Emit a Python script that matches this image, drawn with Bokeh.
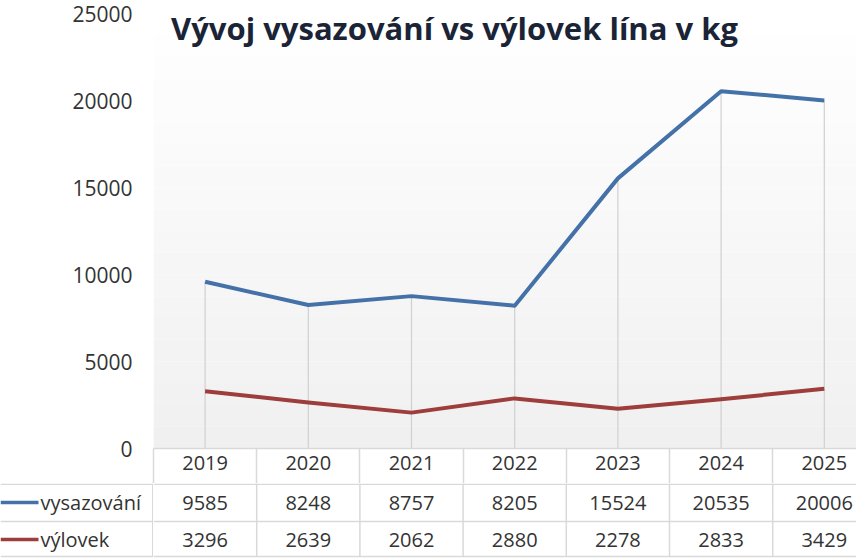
from bokeh.plotting import figure
from bokeh.models import Range1d, FixedTicker, Label, BoxAnnotation
from bokeh.layouts import column, row
from bokeh.embed import file_html
from bokeh.resources import INLINE
from bokeh.core.properties import value

# ---- data ----
years = ["2019", "2020", "2021", "2022", "2023", "2024", "2025"]
vysazovani = [9585, 8248, 8757, 8205, 15524, 20535, 20006]
vylovek = [3296, 2639, 2062, 2880, 2278, 2833, 3429]
y_ticks = [0, 5000, 10000, 15000, 20000, 25000]
series_names = ["vysazování", "výlovek"]
title_text = "Vývoj vysazování vs výlovek lína v kg"

# ---- layout constants ----
W = 856
LEFT = 153          # px where the plot frame starts
COL = 103.2         # px per category column
TOP = 13
FONT = "Open Sans"
TXT = "#333333"
GRID = "#d9d9d9"
BLUE = "#4472a8"
RED = "#9d3d3c"
FS = "20px"

n = len(years)
xs = list(range(n))
x_start = -0.5
x_end = x_start + (W - LEFT) / COL
xr = Range1d(x_start, x_end)

p = figure(width=W, height=483, x_range=xr,
           y_range=Range1d(0, 25000), output_backend="svg",
           toolbar_location=None, min_border_left=LEFT, min_border_right=0,
           min_border_top=TOP, min_border_bottom=35)
p.outline_line_color = None
p.xgrid.visible = False
p.ygrid.visible = False
p.border_fill_color = "white"
p.background_fill_color = "white"

# subtle vertical gradient of the plot area
nb = 20
for k in range(nb):
    g = int(round(240 + 15 * (k + 0.5) / nb))
    p.add_layout(BoxAnnotation(bottom=25000 * k / nb, top=25000 * (k + 1) / nb,
                               fill_color="#%02x%02x%02x" % (g, g, g), fill_alpha=1.0,
                               line_color=None, level="underlay"))

# y axis
p.yaxis.ticker = FixedTicker(ticks=y_ticks)
p.yaxis.axis_line_color = None
p.yaxis.major_tick_line_color = None
p.yaxis.minor_tick_line_color = None
p.yaxis.major_tick_in = 0
p.yaxis.major_tick_out = 0
p.yaxis.minor_tick_out = 0
p.yaxis.major_label_standoff = 21
p.yaxis.major_label_text_font = FONT
p.yaxis.major_label_text_font_size = "21px"
p.yaxis.major_label_text_color = TXT

# x axis = header row of the data table
p.xaxis.ticker = FixedTicker(ticks=xs, minor_ticks=[i - 0.5 for i in range(n + 1)])
p.xaxis.major_label_overrides = {i: y for i, y in zip(xs, years)}
p.xaxis.axis_line_color = GRID
p.xaxis.axis_line_width = 1.5
p.xaxis.major_tick_line_color = None
p.xaxis.major_tick_in = 0
p.xaxis.major_tick_out = 0
p.xaxis.minor_tick_line_color = GRID
p.xaxis.minor_tick_line_width = 1.5
p.xaxis.minor_tick_in = 0
p.xaxis.minor_tick_out = 35
p.xaxis.major_label_standoff = -28
p.xaxis.major_label_text_font = FONT
p.xaxis.major_label_text_font_size = FS
p.xaxis.major_label_text_color = TXT

# drop lines
p.segment(x0=xs, y0=[0] * n, x1=xs, y1=vysazovani, line_color="#d0d0d0", line_width=1.2)

p.line(xs, vysazovani, line_color=BLUE, line_width=4, line_join="round")
p.line(xs, vylovek, line_color=RED, line_width=4, line_join="round")

frame_h = 483 - 35 - TOP
p.add_layout(Label(x=x_start + (454 - LEFT) / COL, y=25000 * (448 - 27) / frame_h,
                   text=title_text, text_font=FONT, text_font_size="31px",
                   text_font_style="bold", text_color="#1a2436",
                   text_align="center", text_baseline="middle"))

# ---- data table rows ----
TH = 77
row_lines = [0.75, 38, 73]
row_y = [19, 56]


def bare(fig):
    fig.outline_line_color = None
    fig.xgrid.visible = False
    fig.ygrid.visible = False
    fig.background_fill_color = "white"
    fig.border_fill_color = "white"
    return fig


# left part: legend keys and series names
lf = bare(figure(width=LEFT, height=TH, x_range=Range1d(0, LEFT), y_range=Range1d(TH, 0),
                 output_backend="svg", toolbar_location=None, x_axis_location=None,
                 y_axis_location=None, min_border=0))
lf.segment(x0=[0] * 3, y0=row_lines, x1=[LEFT] * 3, y1=row_lines,
           line_color=GRID, line_width=1.5)
lf.segment(x0=[LEFT - 0.75], y0=[0], x1=[LEFT - 0.75], y1=[73], line_color=GRID, line_width=1.5)
for ry, name, col in zip(row_y, series_names, [BLUE, RED]):
    lf.line([0, 38], [ry, ry], line_color=col, line_width=3.5)
    lf.text(x=[40], y=[ry], text=[name], text_font=value(FONT),
            text_font_size=FS, text_color=TXT, text_align="left",
            text_baseline="middle")

# right part: values
t = bare(figure(width=W - LEFT, height=TH, x_range=xr, y_range=Range1d(TH, 0),
                output_backend="svg", toolbar_location=None, x_axis_location=None,
                y_axis_location=None, min_border=0))
t.segment(x0=[x_start] * 3, y0=row_lines, x1=[x_end] * 3, y1=row_lines,
          line_color=GRID, line_width=1.5)
vx = [i + 0.5 for i in range(n - 1)]
t.segment(x0=vx, y0=[0] * len(vx), x1=vx, y1=[73] * len(vx), line_color=GRID, line_width=1.5)
for vals, ry in zip([vysazovani, vylovek], row_y):
    t.text(x=xs, y=[ry] * n, text=[str(v) for v in vals], text_font=value(FONT),
           text_font_size=FS, text_color=TXT, text_align="center",
           text_baseline="middle")

layout = column(p, row(lf, t))
open("out.html", "w").write(file_html(layout, INLINE))
